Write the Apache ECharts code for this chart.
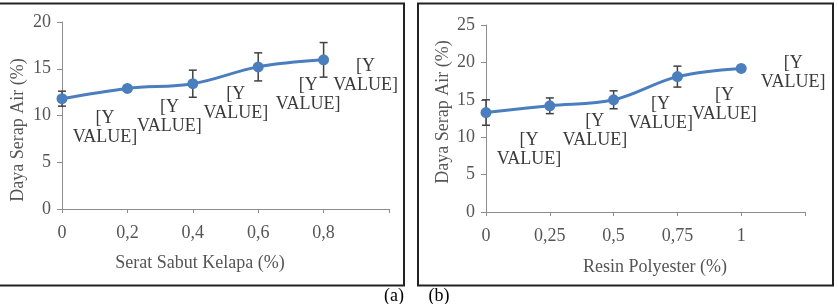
<!DOCTYPE html>
<html>
<head>
<meta charset="utf-8">
<script src="https://cdn.jsdelivr.net/npm/echarts@6/dist/echarts.min.js"></script>
<style>
  html, body { margin: 0; padding: 0; background: #fff; }
  #chart { width: 838px; height: 304px; }
</style>
</head>
<body>
<div id="chart"></div>
<script>
// Data - panel (a): serat sabut kelapa
const seratX = [0, 0.2, 0.4, 0.6, 0.8];
const seratY = [11.8, 12.9, 13.4, 15.2, 15.95];
const seratErr = [0.8, 0, 1.45, 1.5, 1.85];

// Data - panel (b): resin polyester
const resinX = [0, 0.25, 0.5, 0.75, 1];
const resinY = [13.3, 14.2, 15.0, 18.1, 19.2];
const resinErr = [1.7, 1.05, 1.2, 1.4, 0];

const labelText = '[Y\nVALUE]';

// Label placement (pixel offsets from each point, Excel leaves them scattered)
const seratLabelOffset = [[43, 29], [42, 28], [43, 20], [50, 28], [42, 16]];
const resinLabelOffset = [[43, 37], [45, 25], [47, 14], [47, 28], [52, 4]];

const FONT = 'Liberation Serif, Times New Roman, serif';
const FS = 18;
const BLUE = '#4a7ebf';
const AXIS_GRAY = '#8c8c8c';
const TEXT_GRAY = '#555555';

const chart = echarts.init(document.getElementById('chart'));

function xAxisFor(gridIndex, max, interval) {
  return {
    type: 'value',
    gridIndex: gridIndex,
    min: 0,
    max: max,
    interval: interval,
    splitLine: { show: false },
    axisLine: { lineStyle: { color: AXIS_GRAY, width: 1 } },
    axisTick: { show: true, length: 4, lineStyle: { color: AXIS_GRAY } },
    axisLabel: {
      color: TEXT_GRAY,
      fontFamily: FONT,
      fontSize: FS,
      margin: 15,
      formatter: v => (v === max ? '' : String(v).replace('.', ','))
    }
  };
}

function yAxisFor(gridIndex, max) {
  return {
    type: 'value',
    gridIndex: gridIndex,
    min: 0,
    max: max,
    interval: 5,
    splitLine: { show: false },
    axisLine: { show: true, lineStyle: { color: AXIS_GRAY, width: 1 } },
    axisTick: { show: true, length: 5, lineStyle: { color: AXIS_GRAY } },
    axisLabel: { color: TEXT_GRAY, fontFamily: FONT, fontSize: FS, margin: 11 }
  };
}

function lineSeries(idx, xs, ys, offsets) {
  return {
    type: 'line',
    xAxisIndex: idx,
    yAxisIndex: idx,
    smooth: 0.35,
    symbol: 'circle',
    symbolSize: 11,
    z: 3,
    lineStyle: { color: BLUE, width: 3 },
    itemStyle: { color: BLUE },
    data: xs.map((x, i) => ({
      value: [x, ys[i]],
      label: {
        show: true,
        position: 'inside',
        offset: offsets[i],
        formatter: labelText,
        align: 'center',
        verticalAlign: 'middle',
        color: '#3a3a3a',
        fontFamily: FONT,
        fontSize: FS,
        lineHeight: 19
      }
    }))
  };
}

function errorSeries(idx, xs, ys, errs) {
  return {
    type: 'custom',
    xAxisIndex: idx,
    yAxisIndex: idx,
    z: 2,
    data: xs.map((x, i) => [x, ys[i] - errs[i], ys[i] + errs[i]]),
    renderItem: function (params, api) {
      const lo = api.coord([api.value(0), api.value(1)]);
      const hi = api.coord([api.value(0), api.value(2)]);
      if (hi[1] === lo[1]) return null;
      const half = 4;
      const style = { stroke: '#404040', lineWidth: 1.5 };
      return {
        type: 'group',
        children: [
          { type: 'line', shape: { x1: lo[0], y1: lo[1], x2: hi[0], y2: hi[1] }, style: style },
          { type: 'line', shape: { x1: hi[0] - half, y1: hi[1], x2: hi[0] + half, y2: hi[1] }, style: style },
          { type: 'line', shape: { x1: lo[0] - half, y1: lo[1], x2: lo[0] + half, y2: lo[1] }, style: style }
        ]
      };
    }
  };
}

function titleText(x, y, text, rotated) {
  return {
    type: 'text',
    x: x,
    y: y,
    rotation: rotated ? Math.PI / 2 : 0,
    style: {
      text: text,
      fill: TEXT_GRAY,
      font: FS + 'px ' + FONT,
      textAlign: 'center',
      textVerticalAlign: 'middle'
    }
  };
}

chart.setOption({
  animation: false,
  backgroundColor: '#fff',
  grid: [
    { left: 62, top: 22, width: 327, height: 187 },
    { left: 486, top: 25, width: 319, height: 187 }
  ],
  xAxis: [xAxisFor(0, 1, 0.2), xAxisFor(1, 1.25, 0.25)],
  yAxis: [yAxisFor(0, 20), yAxisFor(1, 25)],
  series: [
    errorSeries(0, seratX, seratY, seratErr),
    lineSeries(0, seratX, seratY, seratLabelOffset),
    errorSeries(1, resinX, resinY, resinErr),
    lineSeries(1, resinX, resinY, resinLabelOffset)
  ],
  graphic: [
    // panel frames
    {
      type: 'polyline',
      shape: { points: [[0, 3.5], [404, 3.5], [404, 285.5], [0, 285.5]] },
      style: { stroke: '#222', lineWidth: 2, fill: null }
    },
    {
      type: 'rect',
      shape: { x: 418, y: 3.5, width: 415, height: 282 },
      style: { stroke: '#222', lineWidth: 2, fill: null }
    },
    titleText(18, 130, 'Daya Serap Air (%)', true),
    titleText(200, 263, 'Serat Sabut Kelapa (%)', false),
    titleText(443, 112, 'Daya Serap Air (%)', true),
    titleText(655, 267, 'Resin Polyester (%)', false),
    {
      type: 'text',
      x: 394, y: 296,
      style: { text: '(a)', fill: '#000', font: FS + 'px ' + FONT, textAlign: 'center', textVerticalAlign: 'middle' }
    },
    {
      type: 'text',
      x: 439, y: 296,
      style: { text: '(b)', fill: '#000', font: FS + 'px ' + FONT, textAlign: 'center', textVerticalAlign: 'middle' }
    }
  ]
});
</script>
</body>
</html>
